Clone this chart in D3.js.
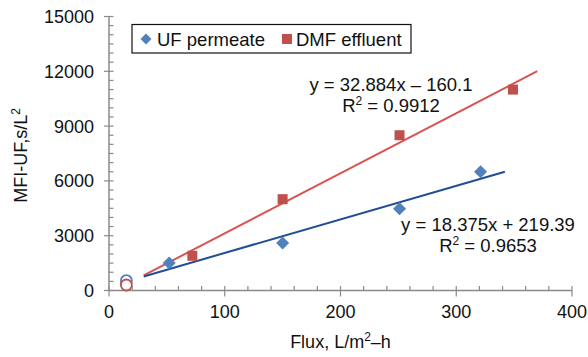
<!DOCTYPE html>
<html>
<head>
<meta charset="utf-8">
<script src="https://cdn.jsdelivr.net/npm/d3@7"></script>
<style>
  html, body { margin: 0; padding: 0; background: #fff; }
  svg { display: block; font-family: "Liberation Sans", Arial, Helvetica, sans-serif; }
</style>
</head>
<body>
<svg id="chart" width="588" height="357"></svg>
<script>
// ---- data ----
const seriesNames = ["UF permeate", "DMF effluent"];
const ufFlux = [52, 150, 251, 321];
const ufMFI = [1500, 2600, 4480, 6500];
const dmfFlux = [72, 150, 251, 349];
const dmfMFI = [1900, 5000, 8500, 11000];
// open-circle points (excluded from fits)
const ufOpenFlux = [15];
const ufOpenMFI = [540];
const dmfOpenFlux = [15];
const dmfOpenMFI = [300];
// trendlines
const ufFit = { slope: 18.375, intercept: 219.39, from: 30, to: 342 };
const dmfFit = { slope: 32.884, intercept: -160.1, from: 30, to: 370 };
const ufEq = ["y = 18.375x + 219.39", "0.9653"];
const dmfEq = ["y = 32.884x \u2013 160.1", "0.9912"];
const xTicks = [0, 100, 200, 300, 400];
const yTicks = [0, 3000, 6000, 9000, 12000, 15000];

// ---- styles ----
const blue = "#4f81bd", red = "#c0504d";
const blueLine = "#1f4e96", redLine = "#d9534f";
const axisColor = "#8a8a8a";
const fsTick = 18, fsText = 18.5;

const svg = d3.select("#chart");
const x = d3.scaleLinear().domain([0, 400]).range([109, 572]);
const y = d3.scaleLinear().domain([0, 15000]).range([290.5, 16.5]);

// axes
const ax = svg.append("g").attr("stroke", axisColor).attr("stroke-width", 1.5);
ax.append("line").attr("x1", x(0)).attr("x2", x(0)).attr("y1", y(0)).attr("y2", y(15000));
ax.append("line").attr("x1", x(0)).attr("x2", x(400)).attr("y1", y(0)).attr("y2", y(0));
d3.range(0, 15001, 500).forEach(v => {
  const major = v % 3000 === 0;
  ax.append("line").attr("x1", major ? x(0) - 5 : x(0)).attr("x2", x(0) + 4.5)
    .attr("y1", y(v)).attr("y2", y(v)).attr("stroke-width", 1.2);
});
d3.range(0, 401, 20).forEach(v => {
  const major = v % 100 === 0;
  ax.append("line").attr("x1", x(v)).attr("x2", x(v))
    .attr("y1", y(0) - 4.5).attr("y2", major ? y(0) + 6 : y(0)).attr("stroke-width", 1.2);
});

// tick labels
svg.append("g").selectAll("text").data(yTicks).join("text")
  .attr("x", x(0) - 15).attr("y", d => y(d) + 6.5)
  .attr("text-anchor", "end").attr("font-size", fsTick).attr("fill", "#111")
  .text(d => d);
svg.append("g").selectAll("text").data(xTicks).join("text")
  .attr("x", d => x(d)).attr("y", y(0) + 27)
  .attr("text-anchor", "middle").attr("font-size", fsTick).attr("fill", "#111")
  .text(d => d);

// axis titles
const xt = svg.append("text").attr("x", x(200)).attr("y", 348)
  .attr("text-anchor", "middle").attr("font-size", fsTick).attr("fill", "#111");
xt.append("tspan").text("Flux, L/m");
xt.append("tspan").attr("dy", -7).attr("font-size", 12).text("2");
xt.append("tspan").attr("dy", 7).text("\u2013h");

const yt = svg.append("text").attr("transform", `translate(27,${y(7500) + 2}) rotate(-90)`)
  .attr("text-anchor", "middle").attr("font-size", fsTick).attr("fill", "#111");
yt.append("tspan").text("MFI-UF,s/L");
yt.append("tspan").attr("dy", -7).attr("font-size", 12).text("2");

// trendlines
[[dmfFit, redLine], [ufFit, blueLine]].forEach(([f, c]) => {
  svg.append("line")
    .attr("x1", x(f.from)).attr("y1", y(f.slope * f.from + f.intercept))
    .attr("x2", x(f.to)).attr("y2", y(f.slope * f.to + f.intercept))
    .attr("stroke", c).attr("stroke-width", 2);
});

// open circles
svg.append("g").selectAll("circle").data(ufOpenFlux.map((d, i) => [d, ufOpenMFI[i]])).join("circle")
  .attr("cx", d => x(d[0])).attr("cy", d => y(d[1])).attr("r", 5.5)
  .attr("fill", "none").attr("stroke", blue).attr("stroke-width", 1.8);
svg.append("g").selectAll("circle").data(dmfOpenFlux.map((d, i) => [d, dmfOpenMFI[i]])).join("circle")
  .attr("cx", d => x(d[0])).attr("cy", d => y(d[1])).attr("r", 5.5)
  .attr("fill", "#fff").attr("stroke", red).attr("stroke-width", 1.8);

// markers
const diamond = d3.symbol().type(d3.symbolSquare).size(85);
svg.append("g").selectAll("path").data(ufFlux.map((d, i) => [d, ufMFI[i]])).join("path")
  .attr("d", diamond)
  .attr("transform", d => `translate(${x(d[0])},${y(d[1])}) rotate(45)`)
  .attr("fill", blue);
svg.append("g").selectAll("rect").data(dmfFlux.map((d, i) => [d, dmfMFI[i]])).join("rect")
  .attr("x", d => x(d[0]) - 5).attr("y", d => y(d[1]) - 5)
  .attr("width", 10).attr("height", 10).attr("fill", red);

// equations
function eq(lines, cx, by) {
  svg.append("text").attr("x", cx).attr("y", by).attr("text-anchor", "middle")
    .attr("font-size", fsText).attr("fill", "#111").text(lines[0]);
  const t = svg.append("text").attr("x", cx).attr("y", by + 21).attr("text-anchor", "middle")
    .attr("font-size", fsText).attr("fill", "#111");
  t.append("tspan").text("R");
  t.append("tspan").attr("dy", -7).attr("font-size", 12).text("2");
  t.append("tspan").attr("dy", 7).text(" = " + lines[1]);
}
eq(dmfEq, 391, 91);
eq(ufEq, 488, 231);

// legend
const lg = svg.append("g");
lg.append("rect").attr("x", 132).attr("y", 24.5).attr("width", 279).attr("height", 28.5)
  .attr("fill", "#fff").attr("stroke", "#111").attr("stroke-width", 1.2);
lg.append("path").attr("d", d3.symbol().type(d3.symbolSquare).size(60))
  .attr("transform", "translate(146,39) rotate(45)").attr("fill", blue);
lg.append("text").attr("x", 157).attr("y", 45.5).attr("font-size", fsText).attr("fill", "#111").text(seriesNames[0]);
lg.append("rect").attr("x", 282).attr("y", 34).attr("width", 10).attr("height", 10).attr("fill", red);
lg.append("text").attr("x", 296).attr("y", 45.5).attr("font-size", fsText).attr("fill", "#111").text(seriesNames[1]);
</script>
</body>
</html>
